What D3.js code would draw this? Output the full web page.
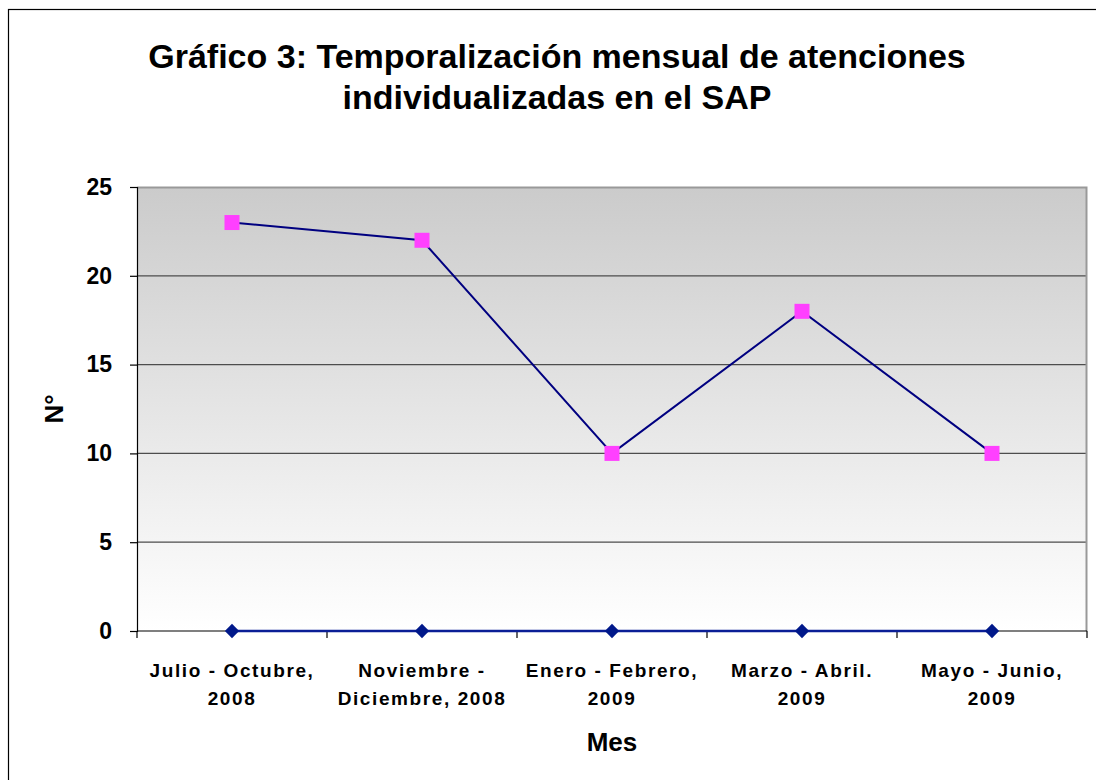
<!DOCTYPE html>
<html>
<head>
<meta charset="utf-8">
<script src="https://cdn.jsdelivr.net/npm/d3@7"></script>
<style>
  body { margin: 0; background: #fff; }
  svg { display: block; }
</style>
</head>
<body>
<div class="chart-container"></div>
<script>
var categories = [
    ["Julio - Octubre,", "2008"],
    ["Noviembre -", "Diciembre, 2008"],
    ["Enero - Febrero,", "2009"],
    ["Marzo - Abril.", "2009"],
    ["Mayo - Junio,", "2009"]
];
var atenciones = [23, 22, 10, 18, 10];
var baseSeries = [0, 0, 0, 0, 0];
var yTicks = [0, 5, 10, 15, 20, 25];

draw();

function draw() {
    var drawWidth = 1096;
    var drawHeight = 780;
    var margin = { top: 187, right: 9, bottom: 149, left: 137 };
    var width = drawWidth - margin.left - margin.right;
    var height = drawHeight - margin.top - margin.bottom;

    var svg = d3.select('.chart-container').append('svg')
        .attr('width', drawWidth)
        .attr('height', drawHeight);

    // outer frame
    svg.append('rect')
        .attr('x', 8.5).attr('y', 9.5)
        .attr('width', drawWidth).attr('height', drawHeight)
        .attr('fill', 'none').attr('stroke', '#000').attr('stroke-width', 1.2);

    var defs = svg.append('defs');
    var grad = defs.append('linearGradient')
        .attr('id', 'bg').attr('x1', 0).attr('y1', 0).attr('x2', 0).attr('y2', 1);
    grad.append('stop').attr('offset', '0%').attr('stop-color', '#cbcbcb');
    grad.append('stop').attr('offset', '100%').attr('stop-color', '#ffffff');

    // title
    var title = svg.append('text')
        .attr('text-anchor', 'middle')
        .attr('font-family', 'Liberation Sans, Arial, sans-serif')
        .attr('font-weight', 'bold')
        .attr('font-size', 34);
    title.append('tspan').attr('x', 557).attr('y', 68).text('Gráfico 3: Temporalización mensual de atenciones');
    title.append('tspan').attr('x', 557).attr('y', 109).text('individualizadas en el SAP');

    var g = svg.append('g')
        .attr('class', 'canvas')
        .attr('transform', 'translate(' + margin.left + ',' + margin.top + ')');

    var x = d3.scaleBand().domain(d3.range(categories.length)).range([0, width]);
    var y = d3.scaleLinear().domain([0, 25]).range([height, 0]);

    g.append('rect')
        .attr('width', width).attr('height', height)
        .attr('fill', 'url(#bg)');

    // gridlines
    g.selectAll('.grid').data(yTicks.slice(1, -1)).enter().append('line')
        .attr('x1', 0).attr('x2', width)
        .attr('y1', function (d) { return y(d); })
        .attr('y2', function (d) { return y(d); })
        .attr('stroke', '#4d4d4d').attr('stroke-width', 1.2);

    // plot area border top/right
    g.append('path')
        .attr('d', 'M0,0.5H' + (width - 0.5) + 'V' + height)
        .attr('fill', 'none').attr('stroke', '#999').attr('stroke-width', 2);

    // y axis
    var yAxis = g.append('g')
        .call(d3.axisLeft(y).tickValues(yTicks).tickSize(7).tickPadding(18));
    yAxis.select('.domain').attr('stroke', '#000').attr('stroke-width', 1.2);
    yAxis.selectAll('.tick line').attr('stroke', '#000').attr('stroke-width', 1.2);
    yAxis.selectAll('.tick text')
        .attr('font-family', 'Liberation Sans, Arial, sans-serif')
        .attr('font-weight', 'bold').attr('font-size', 23).attr('fill', '#000');

    // x axis
    var xAxisG = g.append('g').attr('transform', 'translate(0,' + height + ')');
    xAxisG.append('line')
        .attr('x1', 0).attr('x2', width)
        .attr('stroke', '#000').attr('stroke-width', 1.2);
    xAxisG.selectAll('.xtick').data(d3.range(categories.length + 1)).enter().append('line')
        .attr('x1', function (d) { return d * x.bandwidth(); })
        .attr('x2', function (d) { return d * x.bandwidth(); })
        .attr('y1', 0).attr('y2', 7)
        .attr('stroke', '#000').attr('stroke-width', 1.2);
    var xl = xAxisG.selectAll('.xlabel').data(categories).enter().append('text')
        .attr('text-anchor', 'middle')
        .attr('font-family', 'Liberation Sans, Arial, sans-serif')
        .attr('font-weight', 'bold').attr('font-size', 19)
        .attr('letter-spacing', 1.6)
        .attr('fill', '#000');
    xl.append('tspan')
        .attr('x', function (d, i) { return x(i) + x.bandwidth() / 2; })
        .attr('y', 46).text(function (d) { return d[0]; });
    xl.append('tspan')
        .attr('x', function (d, i) { return x(i) + x.bandwidth() / 2; })
        .attr('y', 74).text(function (d) { return d[1]; });

    // axis titles
    svg.append('text')
        .attr('x', margin.left + width / 2).attr('y', 751)
        .attr('text-anchor', 'middle')
        .attr('font-family', 'Liberation Sans, Arial, sans-serif')
        .attr('font-weight', 'bold').attr('font-size', 26)
        .text('Mes');
    svg.append('text')
        .attr('transform', 'translate(63,409) rotate(-90)')
        .attr('text-anchor', 'middle')
        .attr('font-family', 'Liberation Sans, Arial, sans-serif')
        .attr('font-weight', 'bold').attr('font-size', 26)
        .text('N°');

    var cx = function (d, i) { return x(i) + x.bandwidth() / 2; };
    var line = d3.line().x(cx).y(function (d) { return y(d); });

    // zero series
    g.append('path').datum(baseSeries)
        .attr('d', line).attr('fill', 'none')
        .attr('stroke', '#0a1e96').attr('stroke-width', 2.5);
    g.selectAll('.diamond').data(baseSeries).enter().append('path')
        .attr('d', d3.symbol().type(d3.symbolDiamond2).size(130))
        .attr('transform', function (d, i) { return 'translate(' + cx(d, i) + ',' + y(d) + ')'; })
        .attr('fill', '#00188a');

    // main series
    g.append('path').datum(atenciones)
        .attr('d', line).attr('fill', 'none')
        .attr('stroke', '#000080').attr('stroke-width', 2);
    g.selectAll('.square').data(atenciones).enter().append('rect')
        .attr('x', function (d, i) { return cx(d, i) - 7.5; })
        .attr('y', function (d) { return y(d) - 7.5; })
        .attr('width', 15).attr('height', 15)
        .attr('fill', '#ff40ff');
}
</script>
</body>
</html>
